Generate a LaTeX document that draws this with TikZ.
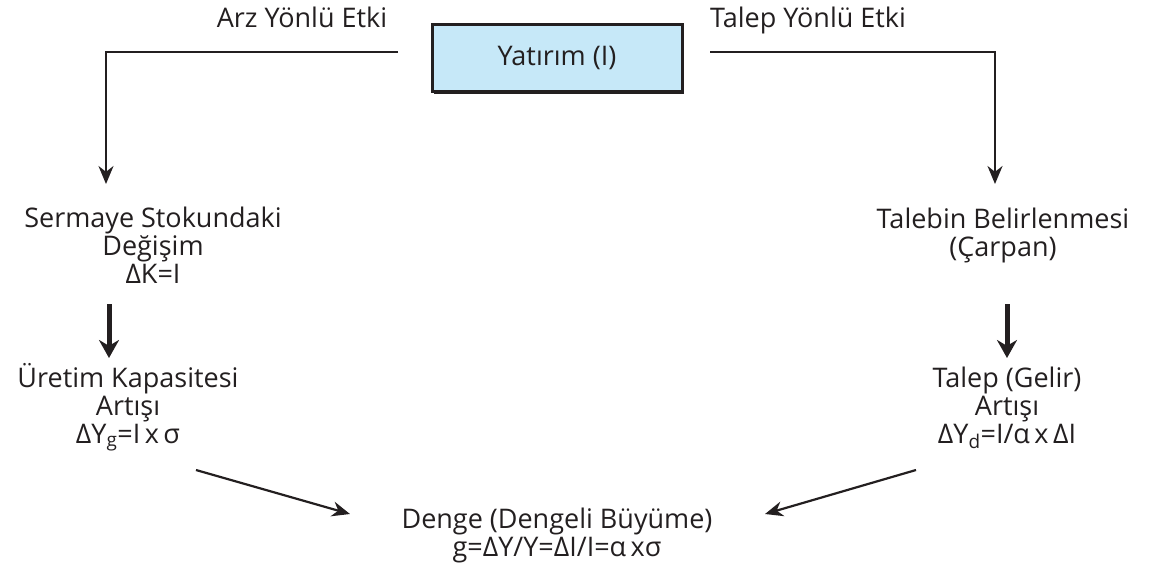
\documentclass[tikz,border=0pt]{standalone}
\usepackage{fontspec}
\setmainfont{Open Sans}
\usetikzlibrary{arrows.meta,shadows}
\definecolor{boxblue}{HTML}{C6E8F8}
\definecolor{ink}{HTML}{231F20}
\newcommand{\sbs}[1]{\textsubscript{#1}}
\begin{document}
\begin{tikzpicture}[x=1pt,y=-1pt,
  txt/.style={text=ink,align=center,font=\fontsize{27}{28}\selectfont,inner sep=0pt},
  thin arrow/.style={draw=ink,line width=2.2pt,-{Stealth[length=18pt,width=15pt]}},
  thick arrow/.style={draw=ink,line width=5pt,-{Stealth[length=18pt,width=20pt]}},
  ybox/.style={draw=ink,line width=3pt,fill=boxblue,minimum width=250pt,minimum height=67pt,text=ink,font=\fontsize{27}{28}\selectfont,
    drop shadow={shadow xshift=2pt,shadow yshift=-2pt,fill=ink,opacity=1}}]
\useasboundingbox (0,0) rectangle (1159,563);
\node[ybox] (yat) at (557,58) {Yatırım (I)};
\node[txt,anchor=base] (arz) at (302,27) {Arz Yönlü Etki};
\node[txt,anchor=base] (talep) at (808,27) {Talep Yönlü Etki};
\coordinate (ls) at (398,52);
\coordinate (rs) at (710,52);
\coordinate (lend) at (106,184);
\coordinate (rend) at (995,184);
\node[txt,anchor=base] (serm) at (153,283) {Sermaye Stokundaki\\Değişim\\ΔK=I};
\node[txt,anchor=base] (tbel) at (1003,256) {Talebin Belirlenmesi\\(Çarpan)};
\node[txt,anchor=base] (uret) at (128,443) {Üretim Kapasitesi\\Artışı\\ΔY\sbs{g}=I\,x\,σ};
\node[txt,anchor=base] (tart) at (1007,443) {Talep (Gelir)\\Artışı\\ΔY\sbs{d}=I/α\,x\,ΔI};
\node[txt,anchor=base] (denge) at (557,556) {Denge (Dengeli Büyüme)\\g=ΔY/Y=ΔI/I=α\,xσ};
\coordinate (la) at (109,304);
\coordinate (lb) at (109,358);
\coordinate (ra) at (1007,304);
\coordinate (rb) at (1007,358);
\coordinate (da) at (196,470);
\coordinate (db) at (350,514);
\coordinate (ea) at (916,470);
\coordinate (eb) at (765,514);
\draw[thin arrow] (ls) -| (lend);
\draw[thin arrow] (rs) -| (rend);
\draw[thick arrow] (la) -- (lb);
\draw[thick arrow] (ra) -- (rb);
\draw[thin arrow] (da) -- (db);
\draw[thin arrow] (ea) -- (eb);
\end{tikzpicture}
\end{document}
